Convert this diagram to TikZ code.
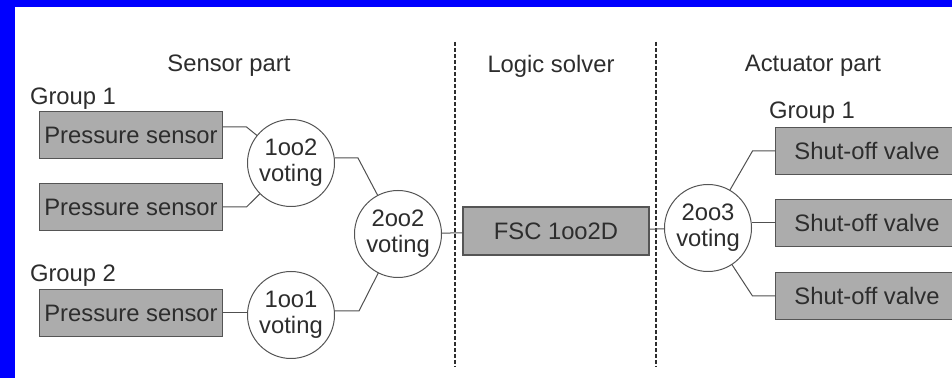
\documentclass[tikz,border=0pt]{standalone}
\usepackage{fontspec}
\setmainfont{Liberation Sans}
\definecolor{frameblue}{RGB}{0,0,255}
\definecolor{boxgray}{RGB}{172,172,172}
\definecolor{edgegray}{RGB}{85,85,85}
\definecolor{txtgray}{RGB}{45,45,45}
\definecolor{wiregray}{RGB}{80,80,80}

\begin{document}
\begin{tikzpicture}[x=0.5pt,y=-0.5pt,inner sep=0pt,outer sep=0pt,
font=\fontsize{11.9}{13}\selectfont,text=txtgray,
devblock/.style={draw=edgegray,fill=boxgray,rectangle,line width=0.7pt,minimum width=91.5pt,minimum height=23.5pt},
vote/.style={draw=edgegray,circle,line width=0.5pt,minimum size=43.5pt,align=center},
wire/.style={draw=wiregray,line width=0.5pt},
partline/.style={draw=txtgray,line width=0.8pt,dash pattern=on 2pt off 1pt}]

\useasboundingbox (0,0) rectangle (952,378);
\fill[white] (0,0) rectangle (952,378);
\fill[frameblue] (0,0) rectangle (952,7);
\fill[frameblue] (0,0) rectangle (15,378);

\node (tsens) at (229,66) {Sensor part};
\node (tlogic) at (551,66) {Logic solver};
\node (tact) at (813,66) {Actuator part};
\node[anchor=west] (g1) at (30,99) {Group 1};
\node[anchor=west] (g2) at (30,276) {Group 2};
\node[anchor=west] (g3) at (769,113) {Group 1};

\draw[partline] (455,42) -- (455,367);
\draw[partline] (656,42) -- (656,367);

\draw (131,135) node[devblock] (s1) {Pressure sensor};
\draw (131,207) node[devblock] (s2) {Pressure sensor};
\draw (131,313) node[devblock] (s3) {Pressure sensor};

\draw (291,163) node[vote] (v1) {1oo2\\voting};
\draw (291,315) node[vote] (v3) {1oo1\\voting};
\draw (398,234) node[vote] (v2) {2oo2\\voting};

\draw (556,231) node[devblock,minimum width=93pt,minimum height=24pt] (fsc) {FSC 1oo2D};

\draw (708,228) node[vote] (a1) {2oo3\\voting};

\draw (867,151) node[devblock] (k1) {Shut-off valve};
\draw (867,223) node[devblock] (k2) {Shut-off valve};
\draw (867,296) node[devblock] (k3) {Shut-off valve};

\draw[wire] (s1.5) -- ++(24,0) -- (v1);
\draw[wire] (s2.east) -- ++(24,0) -- (v1);
\draw[wire] (s3.east) -- (s3.east -| v3.west);
\draw[wire] (v1.east |- 0,158) -- (358,158) -- (v2);
\draw[wire] (v3.east |- 0,311) -- (359,311) -- (v2);
\draw[wire] (v2) -- (fsc);
\draw[wire] (fsc) -- (a1);
\draw[wire] (k1.west) -- ++(-23,0) -- (a1);
\draw[wire] (k2.west) -- (k2.west -| a1.east);
\draw[wire] (k3.west) -- ++(-23,0) -- (a1);
\end{tikzpicture}
\end{document}
